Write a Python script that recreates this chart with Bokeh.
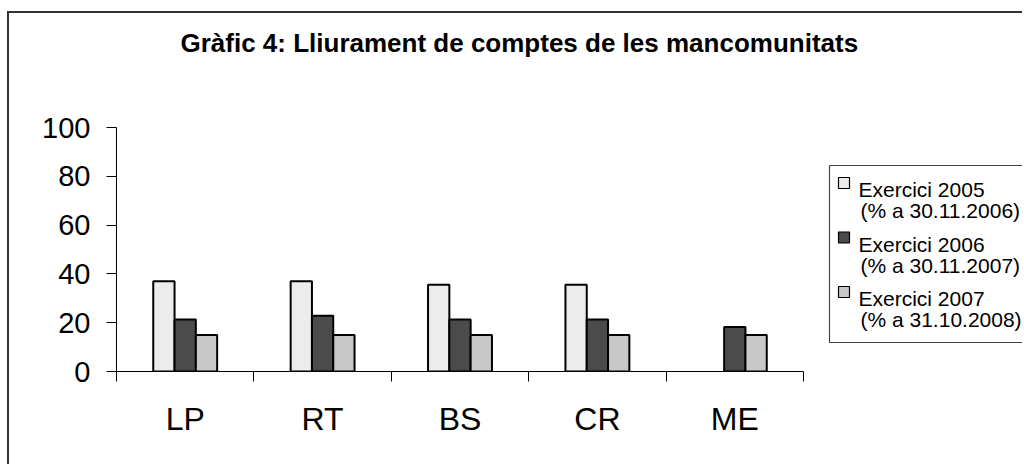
import numpy as np
from bokeh.plotting import figure
from bokeh.models import ColumnDataSource, Range1d, FixedTicker
from bokeh.core.properties import value
from bokeh.embed import file_html
from bokeh.resources import INLINE

# ---------------- data ----------------
categories = ["LP", "RT", "BS", "CR", "ME"]
s2005 = [37.0, 37.0, 35.6, 35.6, np.nan]
s2006 = [21.3, 22.8, 21.3, 21.3, 18.2]
s2007 = [15.0, 15.0, 15.0, 15.0, 15.0]
series_names = ["Exercici 2005", "Exercici 2006", "Exercici 2007"]
series_dates = ["(% a 30.11.2006)", "(% a 30.11.2007)", "(% a 31.10.2008)"]
series_colors = ["#ececec", "#4b4b4b", "#c8c8c8"]
y_ticks = [0, 20, 40, 60, 80, 100]
title_text = "Gràfic 4: Lliurament de comptes de les mancomunitats"

FONT = "Liberation Sans"

# ---------------- layout (pixels) ----------------
# the chart area's outer border (left + top) is drawn as a CSS border
BL, BT, BW = 7, 11, 2          # border position (page px) and width
OX, OY = BL + BW, BT + BW      # where the figure's canvas starts
W, H = 1024 - OX, 466 - OY
ML, MB, MT = 116 - OX, H - (371 - OY), 62 - OY
PX_X = 137.4          # pixels per category
PX_Y = 2.44           # pixels per unit
frame_w = W - ML
frame_h = H - MB - MT
x_end = frame_w / PX_X
y_end = frame_h / PX_Y

p = figure(width=W, height=H, output_backend="svg", toolbar_location=None,
           x_range=Range1d(0, x_end), y_range=Range1d(0, y_end),
           min_border_left=ML, min_border_right=0, min_border_bottom=MB,
           min_border_top=MT, tools="")
p.styles = {"margin-left": f"{BL}px", "margin-top": f"{BT}px",
            "border-left": f"{BW}px solid #333333",
            "border-top": f"{BW}px solid #333333"}
p.background_fill_color = "white"
p.border_fill_color = "white"
p.outline_line_color = None
p.xgrid.grid_line_color = None
p.ygrid.grid_line_color = None

p.title.text = title_text
p.title.text_font = FONT
p.title.text_font_size = "26px"
p.title.text_font_style = "bold"
p.title.align = "left"
p.title.offset = 180 - 116
p.title.text_color = "black"


def dx(px):
    return (px - 116) / PX_X


def dy(py):
    return (371 - py) / PX_Y


# ---------------- bars ----------------
n = len(categories)
xc = np.arange(n) + 0.5
bw = 21.3 / PX_X
offsets = [-bw, 0.0, bw]
for vals, off, col in zip([s2005, s2006, s2007], offsets, series_colors):
    src = ColumnDataSource(dict(x=xc + off, top=np.array(vals, dtype=float)))
    p.vbar(x="x", top="top", bottom=0, width=bw, source=src,
           fill_color=col, line_color="black", line_width=2)

# ---------------- axes ----------------
xa = p.xaxis[0]
xa.ticker = FixedTicker(ticks=list(xc), minor_ticks=list(range(n + 1)))
xa.major_label_overrides = {float(v): c for v, c in zip(xc, categories)}
xa.bounds = (0, n)
xa.major_tick_out = 0
xa.major_tick_in = 0
xa.minor_tick_out = 10
xa.minor_tick_in = 0
xa.minor_tick_line_color = "black"
xa.axis_line_color = "black"
xa.axis_line_width = 1
xa.major_label_text_font = FONT
xa.major_label_text_font_size = "32px"
xa.major_label_standoff = 19
xa.major_label_text_color = "black"

ya = p.yaxis[0]
ya.ticker = FixedTicker(ticks=y_ticks, minor_ticks=[])
ya.bounds = (0, 100)
ya.major_tick_out = 10
ya.major_tick_in = 0
ya.major_tick_line_color = "black"
ya.axis_line_color = "black"
ya.major_label_text_font = FONT
ya.major_label_text_font_size = "29px"
ya.major_label_standoff = 16
ya.major_label_text_color = "black"

# ---------------- legend (drawn) ----------------
p.quad(left=dx(829), right=x_end + 1, top=dy(165), bottom=dy(342),
       fill_color="white", line_color="#444444", line_width=1.2)

pitch = 54.5
k = np.arange(len(series_names))
sw = ColumnDataSource(dict(x=[dx(843.5)] * len(k), y=list(dy(182.5 + pitch * k)),
                           c=series_colors))
p.rect(x="x", y="y", width=11, height=11, width_units="screen", height_units="screen",
       source=sw, fill_color="c", line_color="black", line_width=1.2)
t1 = ColumnDataSource(dict(x=[dx(858)] * len(k), y=list(dy(189 + pitch * k)), t=series_names))
t2 = ColumnDataSource(dict(x=[dx(860)] * len(k), y=list(dy(210 + pitch * k)), t=series_dates))
for src in (t1, t2):
    p.text(x="x", y="y", text="t", source=src, text_font=value(FONT),
           text_font_size="21px", text_baseline="alphabetic", text_align="left",
           text_color="black")

open("out.html", "w").write(file_html(p, INLINE))
